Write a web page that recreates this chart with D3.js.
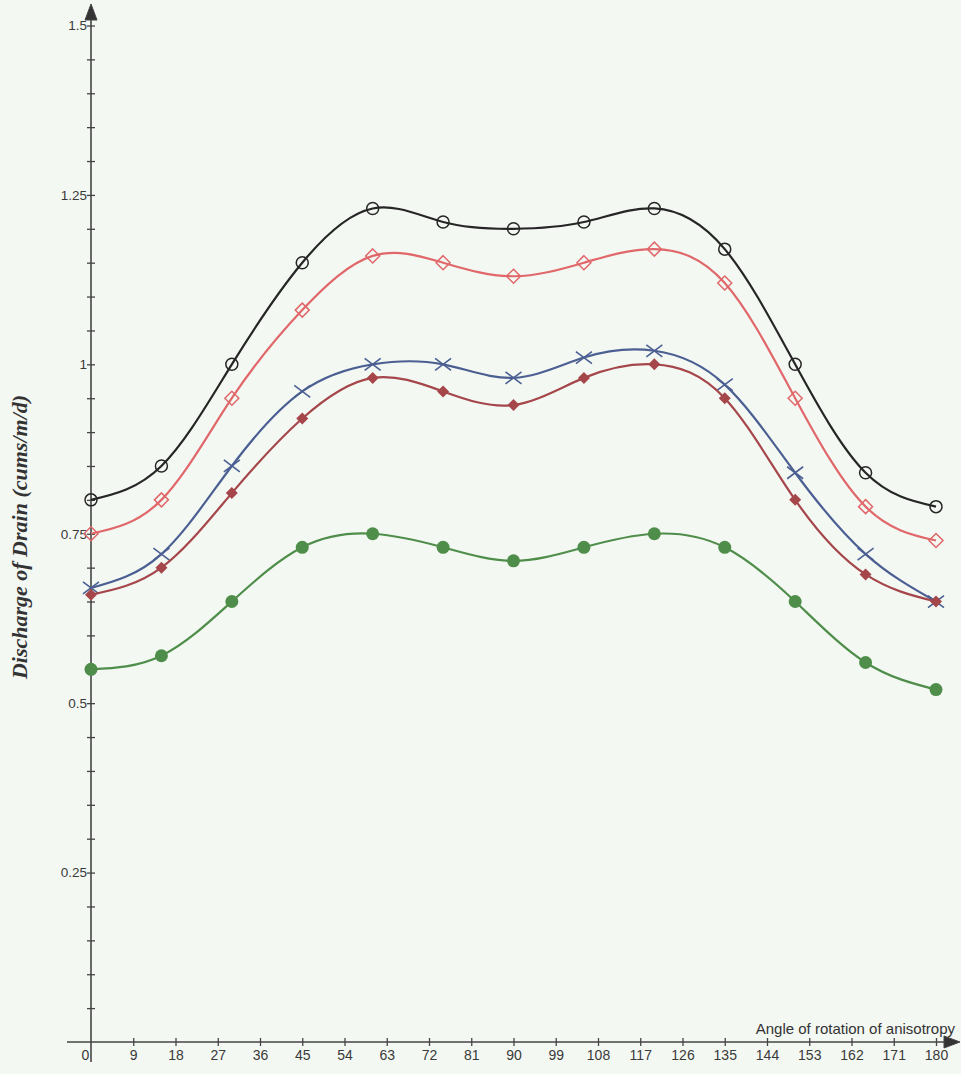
<!DOCTYPE html>
<html>
<head>
<meta charset="utf-8">
<script src="https://cdn.jsdelivr.net/npm/d3@7"></script>
<style>
    body { margin: 0; background: #f4f8f3; }
    svg { display: block; }
    .axis path, .axis line { stroke: #444; }
    .axis text { fill: #3a3a3a; font-family: Arial, "Liberation Sans", sans-serif; }
</style>
</head>
<body>
<div id="chart"></div>
<script>
// data
let angles = [0, 15, 30, 45, 60, 75, 90, 105, 120, 135, 150, 165, 180]
let seriesBlack = [0.80, 0.85, 1.00, 1.15, 1.23, 1.21, 1.20, 1.21, 1.23, 1.17, 1.00, 0.84, 0.79]
let seriesRed = [0.75, 0.80, 0.95, 1.08, 1.16, 1.15, 1.13, 1.15, 1.17, 1.12, 0.95, 0.79, 0.74]
let seriesBlue = [0.67, 0.72, 0.85, 0.96, 1.00, 1.00, 0.98, 1.01, 1.02, 0.97, 0.84, 0.72, 0.65]
let seriesBrown = [0.66, 0.70, 0.81, 0.92, 0.98, 0.96, 0.94, 0.98, 1.00, 0.95, 0.80, 0.69, 0.65]
let seriesGreen = [0.55, 0.57, 0.65, 0.73, 0.75, 0.73, 0.71, 0.73, 0.75, 0.73, 0.65, 0.56, 0.52]

let xTicks = d3.range(0, 181, 9)
let yMinor = d3.range(0.05, 1.51, 0.05).map(d => +d.toFixed(2))
let yLabels = {0.25: '0.25', 0.5: '0.5', 0.75: '0.75', 1: '1', 1.25: '1.25', 1.5: '1.5'}

let series = [
    {name: 'black', values: seriesBlack, color: '#262626', marker: 'circleOpen'},
    {name: 'red', values: seriesRed, color: '#e0676a', marker: 'diamondOpen'},
    {name: 'blue', values: seriesBlue, color: '#4b5f92', marker: 'cross'},
    {name: 'brown', values: seriesBrown, color: '#a5464b', marker: 'diamondFilled'},
    {name: 'green', values: seriesGreen, color: '#4f8e4a', marker: 'circleFilled'}
]

let width = 961, height = 1074

let svg = d3.select('#chart').append('svg')
    .attr('width', width)
    .attr('height', height)

let x = d3.scaleLinear().domain([0, 180]).range([91, 936])
let y = d3.scaleLinear().domain([0, 1.5]).range([1042, 25.5])

// y axis
let yAxis = svg.append('g')
    .attr('class', 'axis axis--y')
    .attr('transform', `translate(${x(0)},0)`)
    .call(d3.axisLeft(y).tickValues(yMinor).tickSize(4)
        .tickFormat(d => yLabels[d] || ''))
yAxis.select('.domain').remove()
yAxis.selectAll('.tick line').attr('x1', -4).attr('x2', 4).attr('stroke-width', 1.3)
yAxis.selectAll('.tick text').attr('x', -4).style('font-size', '13.5px')

yAxis.append('line')
    .attr('x1', 0).attr('x2', 0)
    .attr('y1', 1062).attr('y2', 14)
    .attr('stroke', '#444').attr('stroke-width', 1.6)
yAxis.append('path')
    .attr('d', 'M0,4 L-6,20 L6,20 Z')
    .attr('fill', '#333')

// x axis
let xAxis = svg.append('g')
    .attr('class', 'axis axis--x')
    .attr('transform', `translate(0,${y(0)})`)
    .call(d3.axisBottom(x).tickValues(xTicks).tickSize(4))
xAxis.select('.domain').remove()
xAxis.selectAll('.tick line').attr('y1', -4).attr('y2', 4).attr('stroke-width', 1.3)
xAxis.selectAll('.tick text').attr('y', 8).style('font-size', '14px')
xAxis.selectAll('.tick').filter(d => d === 0).select('line').remove()
xAxis.selectAll('.tick').filter(d => d === 0).select('text').attr('x', -6)

xAxis.append('line')
    .attr('x1', 67).attr('x2', 950)
    .attr('y1', 0).attr('y2', 0)
    .attr('stroke', '#444').attr('stroke-width', 1.6)
xAxis.append('path')
    .attr('d', 'M960,0 L944,-6 L944,6 Z')
    .attr('fill', '#333')

svg.append('text')
    .attr('x', 955)
    .attr('y', y(0) - 8)
    .attr('text-anchor', 'end')
    .attr('font-family', 'Arial, "Liberation Sans", sans-serif')
    .style('font-size', '15px')
    .attr('fill', '#333')
    .text('Angle of rotation of anisotropy')

svg.append('text')
    .attr('transform', `translate(27, 537) rotate(-90)`)
    .attr('text-anchor', 'middle')
    .attr('font-family', '"Liberation Serif", "DejaVu Serif", serif')
    .attr('font-weight', 'bold')
    .attr('font-style', 'italic')
    .style('font-size', '22px')
    .attr('fill', '#333')
    .text('Discharge of Drain (cums/m/d)')

// lines
let line = d3.line()
    .x((d, i) => x(angles[i]))
    .y(d => y(d))
    .curve(d3.curveNatural)

let groups = svg.selectAll('.series')
    .data(series)
    .enter().append('g')
    .attr('class', 'series')

groups.append('path')
    .attr('d', d => line(d.values))
    .attr('fill', 'none')
    .attr('stroke', d => d.color)
    .attr('stroke-width', 2.2)

// markers
groups.each(function (s) {
    let g = d3.select(this)
    let pts = s.values.map((v, i) => ({cx: x(angles[i]), cy: y(v)}))
    let m = g.selectAll('.marker').data(pts).enter().append('g')
        .attr('class', 'marker')
        .attr('transform', d => `translate(${d.cx},${d.cy})`)

    if (s.marker === 'circleOpen') {
        m.append('circle').attr('r', 6)
            .attr('fill', 'none').attr('stroke', s.color).attr('stroke-width', 1.5)
    } else if (s.marker === 'diamondOpen') {
        m.append('path').attr('d', 'M0,-7 L7,0 L0,7 L-7,0 Z')
            .attr('fill', 'none').attr('stroke', s.color).attr('stroke-width', 1.5)
    } else if (s.marker === 'cross') {
        m.append('path').attr('d', 'M-8,-6 L8,6 M-8,6 L8,-6')
            .attr('stroke', s.color).attr('stroke-width', 1.6)
    } else if (s.marker === 'diamondFilled') {
        m.append('path').attr('d', 'M0,-6 L6,0 L0,6 L-6,0 Z')
            .attr('fill', s.color)
    } else {
        m.append('circle').attr('r', 6.5).attr('fill', s.color)
    }
})
</script>
</body>
</html>
